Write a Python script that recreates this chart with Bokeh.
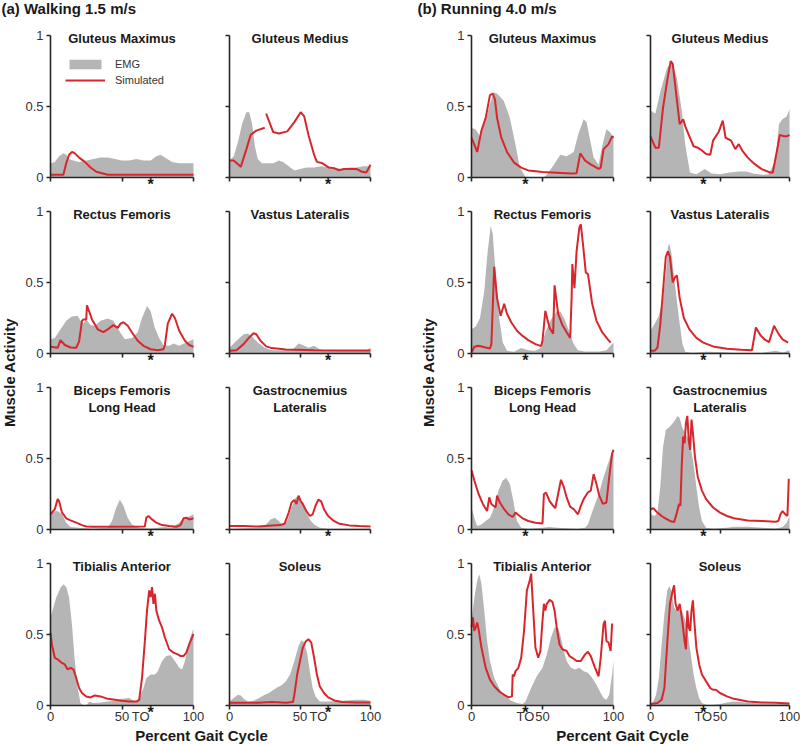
import math
from bokeh.plotting import figure
from bokeh.layouts import row, column
from bokeh.models import Range1d, FixedTicker, Label, Legend, LegendItem
from bokeh.embed import file_html
from bokeh.resources import INLINE
from bokeh.core.properties import value

NAN = float("nan")

# ---------------- data (percent gait cycle, normalised activity) ----------------
# Walking 1.5 m/s
W_GMAX_EMG_X = [0, 3, 6, 9, 11, 13, 16, 20, 25, 30, 35, 40, 45, 50, 55, 60, 65, 70, 74, 77, 80, 85, 90, 95, 100]
W_GMAX_EMG_Y = [0.10, 0.11, 0.15, 0.17, 0.16, 0.13, 0.12, 0.11, 0.12, 0.13, 0.14, 0.14, 0.13, 0.12, 0.12, 0.13, 0.12, 0.12, 0.15, 0.16, 0.14, 0.11, 0.10, 0.10, 0.10]
W_GMAX_SIM_X = [0, 5, 9, 11, 13, 15, 17, 20, 24, 28, 32, 36, 40, 70, 100]
W_GMAX_SIM_Y = [0.02, 0.02, 0.02, 0.10, 0.16, 0.18, 0.17, 0.14, 0.11, 0.07, 0.04, 0.03, 0.02, 0.02, 0.02]

W_GMED_EMG_X = [0, 3, 6, 9, 12, 14, 16, 18, 20, 23, 27, 31, 35, 38, 42, 46, 50, 55, 60, 65, 70, 75, 80, 85, 90, 95, 100]
W_GMED_EMG_Y = [0.12, 0.15, 0.25, 0.38, 0.46, 0.46, 0.38, 0.22, 0.13, 0.10, 0.10, 0.10, 0.12, 0.11, 0.08, 0.05, 0.06, 0.07, 0.07, 0.08, 0.07, 0.07, 0.06, 0.07, 0.07, 0.08, 0.08]
W_GMED_SIM_X = [0, 3, 8, 12, 15, 19, 25, 25.5, 26, 31, 35, 41, 46, 50.5, 53, 56, 60, 62, 66, 70.5, 74, 77.6, 81, 86, 90, 94, 97, 100]
W_GMED_SIM_Y = [0.12, 0.12, 0.075, 0.2, 0.3, 0.33, 0.35, NAN, 0.45, 0.32, 0.31, 0.325, 0.39, 0.46, 0.43, 0.30, 0.16, 0.11, 0.10, 0.07, 0.066, 0.05, 0.06, 0.06, 0.06, 0.04, 0.035, 0.09]

W_RF_EMG_X = [0, 3, 7, 11, 15, 19, 21, 23, 25, 28, 31, 35, 40, 44, 48, 52, 57, 61, 64, 67.5, 70, 73, 76, 79, 83, 86, 90, 95, 100]
W_RF_EMG_Y = [0.10, 0.11, 0.17, 0.23, 0.26, 0.265, 0.23, 0.21, 0.24, 0.20, 0.195, 0.23, 0.246, 0.23, 0.16, 0.10, 0.11, 0.15, 0.25, 0.335, 0.30, 0.18, 0.11, 0.06, 0.055, 0.07, 0.055, 0.077, 0.10]
W_RF_SIM_X = [0, 5, 7, 10, 14, 18, 20, 22, 23, 25, 25.5, 29, 33, 37, 40, 44, 47, 49, 51, 54, 57, 61, 65, 70, 75, 79, 80, 82, 85, 87, 90, 94, 97, 100]
W_RF_SIM_Y = [0.047, 0.04, 0.094, 0.06, 0.042, 0.04, 0.085, 0.23, 0.24, 0.24, 0.34, 0.24, 0.17, 0.15, 0.17, 0.20, 0.18, 0.21, 0.22, 0.195, 0.148, 0.09, 0.054, 0.03, 0.023, 0.03, 0.06, 0.21, 0.28, 0.25, 0.16, 0.09, 0.06, 0.047]

W_VL_EMG_X = [0, 5, 10, 13, 16, 20, 25, 30, 40, 45, 49, 52, 56, 60, 64, 70, 80, 90, 97, 100]
W_VL_EMG_Y = [0.04, 0.09, 0.136, 0.14, 0.12, 0.077, 0.04, 0.023, 0.023, 0.03, 0.07, 0.06, 0.04, 0.054, 0.03, 0.02, 0.017, 0.017, 0.023, 0.04]
W_VL_SIM_X = [0, 5, 10, 14, 17, 19, 22, 26, 30, 40, 60, 80, 100]
W_VL_SIM_Y = [0.019, 0.023, 0.066, 0.113, 0.143, 0.136, 0.09, 0.05, 0.038, 0.028, 0.023, 0.021, 0.021]

W_BF_EMG_X = [0, 2, 5, 8, 11, 14, 20, 30, 40, 43, 46, 48.5, 51, 54, 57, 62, 70, 75, 80, 85, 90, 93, 96, 100]
W_BF_EMG_Y = [0.107, 0.126, 0.13, 0.107, 0.048, 0.017, 0.012, 0.007, 0.012, 0.06, 0.155, 0.21, 0.167, 0.083, 0.036, 0.012, 0.007, 0.012, 0.017, 0.012, 0.048, 0.083, 0.088, 0.107]
W_BF_SIM_X = [0, 3, 5, 6, 8, 11, 14, 18, 22, 25, 30, 66, 67, 68.5, 71, 74, 78, 83, 88, 91, 93, 95, 97, 100]
W_BF_SIM_Y = [0.107, 0.143, 0.214, 0.20, 0.12, 0.079, 0.064, 0.048, 0.031, 0.021, 0.019, 0.021, 0.083, 0.095, 0.071, 0.048, 0.031, 0.024, 0.019, 0.031, 0.079, 0.083, 0.071, 0.079]

W_GAS_EMG_X = [0, 20, 25, 29, 32, 35, 38, 41, 44, 47, 49, 51, 54, 57, 60, 64, 70, 100]
W_GAS_EMG_Y = [0.005, 0.012, 0.024, 0.071, 0.083, 0.06, 0.031, 0.06, 0.155, 0.226, 0.238, 0.20, 0.13, 0.071, 0.036, 0.012, 0.005, 0.007]
W_GAS_SIM_X = [0, 10, 20, 30, 36, 39, 42, 44, 46, 47.5, 49, 50.5, 52, 54.5, 57, 59, 61, 63, 65, 67, 70, 74, 78, 85, 92, 100]
W_GAS_SIM_Y = [0.024, 0.024, 0.021, 0.029, 0.031, 0.04, 0.119, 0.19, 0.207, 0.18, 0.238, 0.20, 0.18, 0.13, 0.095, 0.107, 0.167, 0.21, 0.198, 0.143, 0.095, 0.06, 0.04, 0.029, 0.024, 0.021]

W_TA_EMG_X = [0, 2, 4, 7, 9, 11, 13, 15, 17, 19, 21, 23, 25, 27, 30, 35, 40, 45, 50, 55, 58, 60, 62, 65, 67, 70, 73, 75, 78, 81, 84, 87, 90, 92, 94, 96, 98, 100]
W_TA_EMG_Y = [0.62, 0.69, 0.76, 0.83, 0.853, 0.834, 0.76, 0.573, 0.313, 0.123, 0.017, 0.0, 0.0, 0.028, 0.017, 0.021, 0.028, 0.033, 0.047, 0.052, 0.033, 0.028, 0.05, 0.123, 0.194, 0.218, 0.218, 0.24, 0.313, 0.348, 0.353, 0.313, 0.265, 0.254, 0.313, 0.408, 0.49, 0.538]
W_TA_SIM_X = [0, 1, 3, 5, 8, 10, 12, 14, 16, 18, 20, 22, 25, 28, 31, 35, 40, 45, 50, 55, 60, 62, 64, 66, 67.5, 69, 70, 71, 72, 73, 74, 76, 78, 80, 83, 86, 89, 91, 93, 95, 97, 100]
W_TA_SIM_Y = [0.514, 0.43, 0.336, 0.325, 0.30, 0.289, 0.254, 0.265, 0.254, 0.194, 0.123, 0.088, 0.064, 0.057, 0.071, 0.064, 0.047, 0.04, 0.033, 0.028, 0.028, 0.04, 0.194, 0.455, 0.668, 0.81, 0.763, 0.834, 0.716, 0.787, 0.668, 0.597, 0.55, 0.479, 0.396, 0.372, 0.36, 0.348, 0.348, 0.372, 0.43, 0.502]

W_SOL_EMG_X = [0, 3, 6, 8, 10, 13, 17, 21, 25, 28, 31, 34, 37, 40, 43, 46, 49, 51, 53, 55, 57, 59, 61, 64, 70, 80, 90, 95, 100]
W_SOL_EMG_Y = [0.028, 0.052, 0.076, 0.071, 0.047, 0.028, 0.033, 0.052, 0.076, 0.088, 0.11, 0.128, 0.142, 0.17, 0.218, 0.313, 0.42, 0.46, 0.443, 0.372, 0.24, 0.123, 0.064, 0.028, 0.028, 0.033, 0.04, 0.04, 0.033]
W_SOL_SIM_X = [0, 20, 30, 40, 45, 46, 48, 50, 52, 54, 56, 58, 60, 62, 64, 67, 70, 75, 80, 90, 100]
W_SOL_SIM_Y = [0.019, 0.019, 0.024, 0.019, 0.024, 0.076, 0.218, 0.313, 0.408, 0.45, 0.467, 0.443, 0.336, 0.218, 0.135, 0.088, 0.057, 0.033, 0.024, 0.021, 0.021]

# Running 4.0 m/s
R_GMAX_EMG_X = [0, 2.8, 6, 10, 13, 15.7, 18, 22.7, 27, 31, 34, 38, 45, 50.8, 53, 58, 62.5, 67, 72, 75, 79, 81, 83.6, 86, 89.5, 92, 95, 97.5, 100]
R_GMAX_EMG_Y = [0.35, 0.34, 0.29, 0.40, 0.52, 0.60, 0.59, 0.54, 0.42, 0.23, 0.07, 0.005, 0.0, 0.0, 0.02, 0.09, 0.16, 0.15, 0.18, 0.30, 0.41, 0.39, 0.26, 0.14, 0.09, 0.22, 0.34, 0.32, 0.28]
R_GMAX_SIM_X = [0, 4, 7, 10, 13, 15, 16.5, 18, 21, 25, 30, 35, 40, 50, 60, 70, 74, 76.6, 80, 83.6, 89.5, 91, 93, 96.5, 99, 100]
R_GMAX_SIM_Y = [0.28, 0.18, 0.33, 0.42, 0.58, 0.59, 0.55, 0.42, 0.28, 0.18, 0.105, 0.07, 0.05, 0.038, 0.033, 0.028, 0.03, 0.17, 0.12, 0.094, 0.06, 0.07, 0.20, 0.235, 0.29, 0.28]

R_GMED_EMG_X = [0, 3.5, 7, 11.8, 15.4, 19, 22.5, 25, 28.4, 33, 39, 44, 50, 57, 64, 69, 74, 81, 85, 90, 92.4, 94.8, 98, 100]
R_GMED_EMG_Y = [0.47, 0.45, 0.60, 0.77, 0.82, 0.70, 0.47, 0.23, 0.035, 0.023, 0.06, 0.028, 0.023, 0.035, 0.042, 0.042, 0.028, 0.02, 0.023, 0.12, 0.375, 0.41, 0.43, 0.48]
R_GMED_SIM_X = [0, 3.5, 6, 9, 12, 14.5, 16, 18, 21, 23.5, 25, 28, 31, 34, 37, 40, 43, 45, 49, 52, 54, 58, 61, 63.5, 66, 70, 75, 80, 86, 88, 91, 93, 96, 98, 100]
R_GMED_SIM_Y = [0.29, 0.21, 0.21, 0.49, 0.68, 0.82, 0.80, 0.63, 0.375, 0.41, 0.36, 0.29, 0.22, 0.21, 0.19, 0.165, 0.16, 0.26, 0.32, 0.40, 0.28, 0.26, 0.20, 0.235, 0.19, 0.14, 0.094, 0.059, 0.035, 0.035, 0.19, 0.30, 0.29, 0.29, 0.30]

R_RF_EMG_X = [0, 3, 6, 9, 11, 13.5, 15, 17, 19.5, 22, 25, 30, 35, 40, 45, 49, 52, 56, 60, 63, 66, 69, 72, 75, 80, 90, 95, 100]
R_RF_EMG_Y = [0.17, 0.19, 0.25, 0.44, 0.68, 0.90, 0.84, 0.56, 0.25, 0.077, 0.019, 0.012, 0.038, 0.023, 0.019, 0.04, 0.15, 0.24, 0.30, 0.29, 0.23, 0.15, 0.066, 0.023, 0.014, 0.014, 0.023, 0.077]
R_RF_SIM_X = [0, 2, 5, 10, 13, 14, 16, 18, 20.5, 23, 25, 28, 32, 36, 40, 45, 49, 50, 52, 55, 57.5, 58.5, 61, 64, 67, 69.5, 70.5, 71, 72.5, 74, 76, 77, 78.5, 80.5, 82, 85, 88, 92, 96, 98]
R_RF_SIM_Y = [0.007, 0.047, 0.054, 0.042, 0.035, 0.066, 0.61, 0.39, 0.265, 0.35, 0.28, 0.22, 0.16, 0.124, 0.094, 0.066, 0.052, 0.09, 0.30, 0.18, 0.14, 0.48, 0.28, 0.20, 0.15, 0.11, 0.39, 0.63, 0.46, 0.72, 0.89, 0.91, 0.77, 0.57, 0.56, 0.35, 0.23, 0.15, 0.10, 0.077]

R_VL_EMG_X = [0, 3, 6, 9, 11, 12.5, 13.5, 15, 17, 19, 21, 23, 25, 30, 40, 50, 60, 80, 90, 95, 100]
R_VL_EMG_Y = [0.16, 0.21, 0.265, 0.39, 0.56, 0.75, 0.775, 0.71, 0.535, 0.37, 0.21, 0.066, 0.012, 0.005, 0.012, 0.01, 0.005, 0.005, 0.019, 0.007, 0.023]
R_VL_SIM_X = [0, 3, 5, 7, 9, 11, 12.5, 14, 16, 17.5, 19, 21, 24, 28, 33, 38, 45, 55, 65, 73, 75.8, 79, 82, 85.3, 88.9, 92, 95, 99]
R_VL_SIM_Y = [0.02, 0.02, 0.04, 0.2, 0.44, 0.68, 0.72, 0.68, 0.50, 0.535, 0.55, 0.39, 0.25, 0.17, 0.11, 0.077, 0.05, 0.033, 0.026, 0.023, 0.183, 0.13, 0.10, 0.08, 0.195, 0.14, 0.10, 0.077]

R_BF_EMG_X = [0, 2, 4, 7, 10, 13, 16, 19, 22, 24.5, 27, 29.5, 32, 35, 40, 50, 55, 60, 70, 75, 80, 82, 84, 87, 90, 93, 96, 98, 100]
R_BF_EMG_Y = [0.155, 0.083, 0.024, 0.036, 0.06, 0.083, 0.155, 0.274, 0.345, 0.364, 0.32, 0.20, 0.06, 0.012, 0.005, 0.012, 0.017, 0.012, 0.007, 0.005, 0.012, 0.036, 0.095, 0.18, 0.26, 0.37, 0.46, 0.52, 0.57]
R_BF_SIM_X = [0, 2, 5, 8, 11, 12.5, 14, 17, 18, 20, 23, 26, 29, 31, 33, 36, 40, 45, 50, 51, 52.5, 55, 57.5, 59, 61, 63, 65, 67, 69.5, 72, 75, 77, 79, 82, 84, 86, 88, 90, 92.5, 95, 97, 99, 100]
R_BF_SIM_Y = [0.417, 0.345, 0.25, 0.18, 0.13, 0.226, 0.18, 0.155, 0.238, 0.19, 0.143, 0.107, 0.088, 0.119, 0.102, 0.079, 0.06, 0.048, 0.043, 0.25, 0.26, 0.20, 0.167, 0.15, 0.25, 0.35, 0.30, 0.226, 0.16, 0.143, 0.107, 0.167, 0.214, 0.262, 0.274, 0.39, 0.32, 0.238, 0.18, 0.19, 0.37, 0.535, 0.56]

R_GAS_EMG_X = [0, 3, 5, 7, 9, 11, 14, 17, 19.5, 21, 23, 25, 27, 29, 31, 33, 35, 37, 40, 45, 55, 60, 70, 80, 90, 95, 98, 100]
R_GAS_EMG_Y = [0.107, 0.095, 0.119, 0.30, 0.58, 0.70, 0.726, 0.76, 0.80, 0.786, 0.714, 0.68, 0.64, 0.58, 0.46, 0.30, 0.155, 0.06, 0.012, 0.007, 0.012, 0.019, 0.019, 0.012, 0.007, 0.017, 0.048, 0.095]
R_GAS_SIM_X = [0, 2, 5, 8, 11, 14, 17, 19, 20.5, 21.5, 22.5, 23.5, 24.5, 25.5, 26.5, 27.5, 28.5, 29.5, 30.5, 32, 34, 37, 40, 45, 50, 55, 60, 70, 80, 90, 92, 93.5, 95, 97, 98.5, 99.5]
R_GAS_SIM_Y = [0.143, 0.15, 0.119, 0.095, 0.076, 0.06, 0.052, 0.119, 0.18, 0.167, 0.46, 0.655, 0.607, 0.75, 0.80, 0.63, 0.56, 0.774, 0.68, 0.51, 0.37, 0.274, 0.214, 0.155, 0.119, 0.095, 0.079, 0.064, 0.06, 0.055, 0.06, 0.107, 0.13, 0.107, 0.095, 0.357]

R_TA_EMG_X = [0, 2, 4, 5.5, 7, 9, 11, 13, 16, 20, 24, 28, 32, 36, 38, 40, 43, 46, 50, 53, 56, 58.5, 61, 63, 65, 67, 70, 73, 76, 79, 82, 85, 88, 91, 93, 95, 97, 99, 100]
R_TA_EMG_Y = [0.6, 0.76, 0.88, 0.924, 0.858, 0.668, 0.455, 0.313, 0.194, 0.111, 0.064, 0.033, 0.017, 0.01, 0.028, 0.076, 0.147, 0.206, 0.265, 0.36, 0.478, 0.55, 0.55, 0.478, 0.384, 0.313, 0.265, 0.254, 0.265, 0.242, 0.23, 0.194, 0.147, 0.088, 0.052, 0.04, 0.076, 0.218, 0.313]
R_TA_SIM_X = [0, 1, 2, 3, 4, 5, 7, 10, 13, 16, 20, 24, 26, 28.5, 29, 30, 31, 33, 35, 37, 39, 41, 42, 43.5, 45, 47, 48.5, 50, 51, 52, 53, 55, 57, 58.5, 60, 62, 64, 67, 69, 71, 74, 77, 80, 82, 84, 87, 89.5, 91, 93, 94, 95, 96.5, 98, 99, 99.5]
R_TA_SIM_Y = [0.55, 0.62, 0.526, 0.55, 0.585, 0.538, 0.408, 0.265, 0.182, 0.135, 0.095, 0.069, 0.057, 0.064, 0.218, 0.206, 0.242, 0.265, 0.336, 0.526, 0.81, 0.88, 0.929, 0.668, 0.408, 0.336, 0.384, 0.597, 0.716, 0.668, 0.716, 0.744, 0.73, 0.668, 0.55, 0.43, 0.396, 0.384, 0.348, 0.336, 0.313, 0.313, 0.36, 0.379, 0.348, 0.265, 0.206, 0.336, 0.573, 0.597, 0.455, 0.443, 0.384, 0.573, 0.573]

R_SOL_EMG_X = [0, 2, 4, 6, 8, 10, 12, 13.5, 15, 17, 19, 21, 23, 25, 27, 29, 31, 33, 35, 37, 40, 45, 50, 55, 60, 65, 70, 80, 90, 100]
R_SOL_EMG_Y = [0.005, 0.028, 0.076, 0.194, 0.43, 0.645, 0.81, 0.84, 0.81, 0.69, 0.668, 0.68, 0.656, 0.6, 0.5, 0.36, 0.218, 0.123, 0.052, 0.017, 0.005, 0.005, 0.01, 0.021, 0.028, 0.024, 0.019, 0.014, 0.01, 0.01]
R_SOL_SIM_X = [0, 5, 8, 10, 12, 14, 16, 17, 18, 19.5, 21, 23, 24.5, 25.5, 26.5, 27.5, 28.5, 29.5, 30.5, 31.5, 33, 35, 37, 40, 43, 45, 47, 50, 55, 60, 70, 80, 90, 100]
R_SOL_SIM_Y = [0.01, 0.017, 0.04, 0.123, 0.43, 0.716, 0.81, 0.846, 0.716, 0.668, 0.716, 0.585, 0.455, 0.396, 0.668, 0.55, 0.526, 0.668, 0.74, 0.597, 0.408, 0.289, 0.218, 0.17, 0.123, 0.111, 0.111, 0.088, 0.064, 0.047, 0.028, 0.021, 0.019, 0.014]

MUSCLES = ["Gluteus Maximus", "Gluteus Medius", "Rectus Femoris", "Vastus Lateralis",
           "Biceps Femoris\nLong Head", "Gastrocnemius\nLateralis", "Tibialis Anterior", "Soleus"]
X_TICKS = [0, 50, 100]
Y_TICKS = [0, 0.5, 1]
Y_TICK_LABELS = {0: "0", 0.5: "0.5", 1: "1"}
WALK_TOE_OFF = 63      # "TO" label position (% gait cycle)
WALK_STAR = 70         # asterisk position
RUN_TOE_OFF = 38
RUN_STAR = 38

WALK = [(W_GMAX_EMG_X, W_GMAX_EMG_Y, W_GMAX_SIM_X, W_GMAX_SIM_Y),
        (W_GMED_EMG_X, W_GMED_EMG_Y, W_GMED_SIM_X, W_GMED_SIM_Y),
        (W_RF_EMG_X, W_RF_EMG_Y, W_RF_SIM_X, W_RF_SIM_Y),
        (W_VL_EMG_X, W_VL_EMG_Y, W_VL_SIM_X, W_VL_SIM_Y),
        (W_BF_EMG_X, W_BF_EMG_Y, W_BF_SIM_X, W_BF_SIM_Y),
        (W_GAS_EMG_X, W_GAS_EMG_Y, W_GAS_SIM_X, W_GAS_SIM_Y),
        (W_TA_EMG_X, W_TA_EMG_Y, W_TA_SIM_X, W_TA_SIM_Y),
        (W_SOL_EMG_X, W_SOL_EMG_Y, W_SOL_SIM_X, W_SOL_SIM_Y)]
RUN = [(R_GMAX_EMG_X, R_GMAX_EMG_Y, R_GMAX_SIM_X, R_GMAX_SIM_Y),
       (R_GMED_EMG_X, R_GMED_EMG_Y, R_GMED_SIM_X, R_GMED_SIM_Y),
       (R_RF_EMG_X, R_RF_EMG_Y, R_RF_SIM_X, R_RF_SIM_Y),
       (R_VL_EMG_X, R_VL_EMG_Y, R_VL_SIM_X, R_VL_SIM_Y),
       (R_BF_EMG_X, R_BF_EMG_Y, R_BF_SIM_X, R_BF_SIM_Y),
       (R_GAS_EMG_X, R_GAS_EMG_Y, R_GAS_SIM_X, R_GAS_SIM_Y),
       (R_TA_EMG_X, R_TA_EMG_Y, R_TA_SIM_X, R_TA_SIM_Y),
       (R_SOL_EMG_X, R_SOL_EMG_Y, R_SOL_SIM_X, R_SOL_SIM_Y)]

# ---------------- style / layout (pixels) ----------------
FONT = "Liberation Sans"
EMG_COLOR = "#b5b5b5"
SIM_COLOR = "#d7262c"
AXIS_COLOR = "#262626"
TEXT_COLOR = "#1a1a1a"
TICK_COLOR = "#333333"

UNIT_PX = 142                  # pixels for activity 0..1
ROW_ABOVE = [17, 17, 17, 17]   # cell space above activity = 1
ROW_BELOW = [17, 17, 17, 22]   # cell space below activity = 0
# (space left of 0 %, pixels for 0..100 %, space right of 100 %) per panel column
COLS = [(32, 143, 15), (21, 141, 45), (30, 142, 17), (20, 139, 11)]
WALK_STRIP_W = 18
RUN_STRIP_W = 26
TOP_H = 18
BOTTOM_H = 17
HALF_W = (415, 385)


def style_axis(ax, ticks, bounds):
    ax.ticker = FixedTicker(ticks=ticks)
    ax.fixed_location = 0
    ax.bounds = bounds
    ax.axis_line_color = AXIS_COLOR
    ax.axis_line_width = 1.6
    ax.major_tick_line_color = AXIS_COLOR
    ax.major_tick_line_width = 1.6
    ax.major_tick_out = 4
    ax.major_tick_in = 0
    ax.minor_tick_line_color = None
    ax.major_label_text_font = FONT
    ax.major_label_text_font_size = "13px"
    ax.major_label_text_color = TICK_COLOR
    ax.major_label_standoff = 3


def make_panel(title, data, r, c, star_x, to_x, legend=False):
    emg_x, emg_y, sim_x, sim_y = data
    left, span, right = COLS[c]
    above, below = ROW_ABOVE[r], ROW_BELOW[r]
    xs = 100 / span          # data units per pixel (x)
    ys = 1 / UNIT_PX         # data units per pixel (y)
    p = figure(width=left + span + right, height=above + UNIT_PX + below,
               x_range=Range1d(-left * xs, 100 + right * xs),
               y_range=Range1d(-below * ys, 1 + above * ys),
               output_backend="svg", toolbar_location=None, title=None, min_border=0)
    p.outline_line_color = None
    p.grid.visible = False
    p.background_fill_color = "white"
    p.border_fill_color = "white"

    r_emg = p.varea(x=emg_x, y1=0, y2=emg_y, fill_color=EMG_COLOR)
    r_sim = p.line(x=sim_x, y=sim_y, line_color=SIM_COLOR, line_width=2)

    xa, ya = p.xaxis[0], p.yaxis[0]
    style_axis(xa, X_TICKS, (0, 100))
    style_axis(ya, Y_TICKS, (0, 1))
    xa.major_label_standoff = 2
    ya.major_label_overrides = Y_TICK_LABELS
    if c not in (0, 2):
        ya.major_label_overrides = {0: "", 0.5: "", 1: ""}
        ya.major_label_text_color = None
    if r != 3:
        xa.major_label_overrides = {0: "", 50: "", 100: ""}
        xa.major_label_text_color = None

    p.add_layout(Label(x=50, y=1 + 5 * ys, text=title, text_align="center", text_baseline="top",
                       text_font=FONT, text_font_style="bold", text_font_size="13px",
                       text_color=TEXT_COLOR, text_line_height=1.15))
    p.add_layout(Label(x=star_x, y=2 * ys, text="*", text_align="center", text_baseline="top",
                       text_font=FONT, text_font_style="bold",
                       text_font_size="16px", text_color=TEXT_COLOR))
    if r == 3:
        p.add_layout(Label(x=to_x, y=-3.5 * ys, text="TO", text_align="center", text_baseline="top",
                           text_font=FONT, text_font_size="13px", text_color=TICK_COLOR))
    if legend:
        lg = Legend(items=[LegendItem(label="EMG", renderers=[r_emg]),
                           LegendItem(label="Simulated", renderers=[r_sim])],
                    location=(left + 15, 108), orientation="vertical",
                    glyph_width=40, glyph_height=12, label_height=12, label_width=10,
                    label_standoff=10, spacing=4, padding=0, margin=0,
                    border_line_color=None, background_fill_alpha=0,
                    label_text_font=FONT, label_text_font_size="11px",
                    label_text_color=TICK_COLOR)
        p.add_layout(lg)
    return p


def strip(w, h):
    p = figure(width=w, height=h, x_range=Range1d(0, w), y_range=Range1d(0, h),
               output_backend="svg", toolbar_location=None, title=None,
               x_axis_type=None, y_axis_type=None, min_border=0)
    p.outline_line_color = None
    p.grid.visible = False
    return p


def label_strip(w, h, x, y, text, align="left", angle=0.0):
    p = strip(w, h)
    p.text(x=[x], y=[y], text=[text], angle=angle, text_align=align, text_baseline="middle",
           text_font=value(FONT), text_font_style="bold", text_font_size="15px",
           text_color=TEXT_COLOR)
    return p


grid_h = sum(ROW_ABOVE) + sum(ROW_BELOW) + 4 * UNIT_PX
ylab_y = grid_h - (372 - TOP_H)   # centre of "Muscle Activity" at page y = 372

walk_rows, run_rows = [], []
for r in range(4):
    wa = [make_panel(MUSCLES[2 * r + k], WALK[2 * r + k], r, k, WALK_STAR, WALK_TOE_OFF,
                     legend=(r == 0 and k == 0)) for k in range(2)]
    ru = [make_panel(MUSCLES[2 * r + k], RUN[2 * r + k], r, k + 2, RUN_STAR, RUN_TOE_OFF)
          for k in range(2)]
    walk_rows.append(row(*wa, spacing=0))
    run_rows.append(row(*ru, spacing=0))

body = row(label_strip(WALK_STRIP_W, grid_h, 9, ylab_y, "Muscle Activity", "center", math.pi / 2),
           column(*walk_rows, spacing=0),
           label_strip(RUN_STRIP_W, grid_h, 13, ylab_y, "Muscle Activity", "center", math.pi / 2),
           column(*run_rows, spacing=0), spacing=0)

top = row(label_strip(HALF_W[0], TOP_H, 1, 10, "(a) Walking 1.5 m/s"),
          label_strip(HALF_W[1], TOP_H, 2, 10, "(b) Running 4.0 m/s"), spacing=0)
bottom = row(label_strip(HALF_W[0], BOTTOM_H, 201, 9, "Percent Gait Cycle", "center"),
             label_strip(HALF_W[1], BOTTOM_H, 207, 9, "Percent Gait Cycle", "center"), spacing=0)

layout = column(top, body, bottom, spacing=0)

with open("out.html", "w") as f:
    f.write(file_html(layout, INLINE, title="Muscle activity"))
